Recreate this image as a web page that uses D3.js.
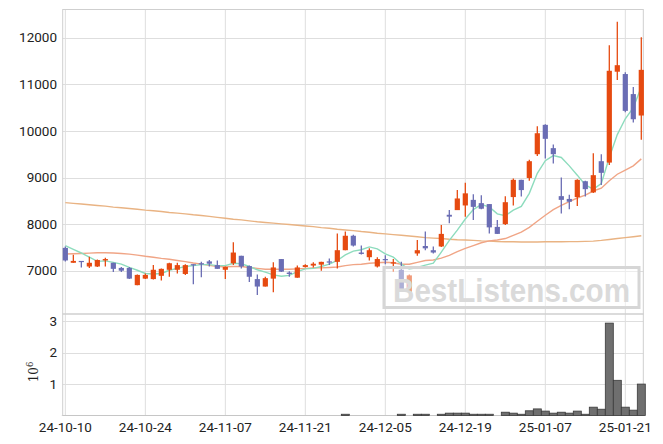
<!DOCTYPE html>
<html lang="en">
<head>
  <meta charset="UTF-8" />
  <title>Candles</title>
  <style>
    body { margin: 0; background: #fff; }
    .grid line { stroke: #dedede; stroke-width: 1; }
    .tick-label { font-family: Roboto, "Liberation Sans", sans-serif; font-size: 13.5px; fill: #222; }
  </style>
</head>
<body>
  <script src="https://d3js.org/d3.v7.min.js"></script>
  <script>
    // trading days (KRX), 2024-10-10 .. 2025-01-23
    const dates = [
      "24-10-10","24-10-11","24-10-14","24-10-15","24-10-16","24-10-17","24-10-18","24-10-21","24-10-22","24-10-23",
      "24-10-24","24-10-25","24-10-28","24-10-29","24-10-30","24-10-31","24-11-01","24-11-04","24-11-05","24-11-06",
      "24-11-07","24-11-08","24-11-11","24-11-12","24-11-13","24-11-14","24-11-15","24-11-18","24-11-19","24-11-20",
      "24-11-21","24-11-22","24-11-25","24-11-26","24-11-27","24-11-28","24-11-29","24-12-02","24-12-03","24-12-04",
      "24-12-05","24-12-06","24-12-09","24-12-10","24-12-11","24-12-12","24-12-13","24-12-16","24-12-17","24-12-18",
      "24-12-19","24-12-20","24-12-23","24-12-24","24-12-26","24-12-27","24-12-30","25-01-02","25-01-03","25-01-06",
      "25-01-07","25-01-08","25-01-09","25-01-10","25-01-13","25-01-14","25-01-15","25-01-16","25-01-17","25-01-20",
      "25-01-21","25-01-22","25-01-23"
    ];

    const open = [
      7490, 7170, 7210, 7090, 7090, 7220, 7170, 7060, 7060, 6690,
      6830, 6820, 6890, 7020, 7020, 6930, 7140, 7160, 7200, 7120,
      7020, 7160, 7320, 7100, 6820, 6660, 6830, 7250, 6960, 6850,
      7080, 7110, 7130, 7200, 7190, 7440, 7750, 7390, 7290, 7090,
      7250, 7160, 7020, 6550, 7370, 7530, 7440, 7520, 8200, 8300,
      8400, 8520, 8450, 8430, 7940, 8000, 8580, 8950, 8990, 9500,
      10130, 9630, 8600, 8540, 8580, 8920, 8680, 9350, 9320, 11270,
      11220, 10790, 10330
    ];
    const high = [
      7520, 7340, 7210, 7300, 7240, 7280, 7170, 7080, 7080, 6920,
      6940, 7120, 7050, 7170, 7170, 7140, 7140, 7190, 7230, 7220,
      7090, 7610, 7320, 7110, 6920, 6870, 7180, 7250, 6990, 7110,
      7140, 7180, 7190, 7260, 7800, 7840, 7770, 7540, 7480, 7290,
      7330, 7250, 7190, 6920, 7660, 7840, 7520, 7980, 8300, 8730,
      8890, 8640, 8620, 8430, 8090, 8600, 8980, 8950, 9380, 10100,
      10140, 9710, 9000, 8630, 8960, 8930, 9520, 9500, 11840, 12340,
      11260, 10940, 12010
    ];
    const low = [
      7200, 7170, 7070, 7060, 7080, 7090, 6970, 6970, 6820, 6690,
      6820, 6810, 6790, 6870, 6940, 6910, 6710, 6860, 7090, 7040,
      6820, 7120, 7050, 6760, 6480, 6660, 6540, 6970, 6870, 6850,
      7070, 7070, 7000, 7120, 7050, 7440, 7520, 7350, 7220, 7070,
      7140, 6980, 6590, 6550, 7320, 7440, 7370, 7510, 8020, 8300,
      8160, 8090, 8320, 7800, 7790, 7980, 8400, 8590, 8930, 9460,
      9410, 9300, 8230, 8320, 8390, 8590, 8670, 8840, 9270, 11090,
      10400, 10180, 9810
    ];
    const close = [
      7220, 7210, 7190, 7170, 7230, 7250, 7040, 7000, 6830, 6910,
      6910, 7020, 7040, 7160, 7120, 7120, 7120, 7140, 7150, 7040,
      7080, 7390, 7090, 6870, 6660, 6840, 7070, 6980, 6930, 7070,
      7120, 7150, 7190, 7180, 7440, 7750, 7540, 7360, 7440, 7250,
      7230, 7180, 6590, 6900, 7440, 7480, 7390, 7790, 8160, 8550,
      8660, 8370, 8330, 7930, 7790, 8470, 8950, 8730, 9350, 9950,
      9830, 9500, 8520, 8480, 8950, 8750, 9050, 9100, 11290, 11410,
      10430, 10250, 11310
    ];
    // volume in millions of shares
    const volume = [
      0.003, 0.003, 0.003, 0.003, 0.003, 0.003, 0.003, 0.003, 0.003, 0.003,
      0.003, 0.003, 0.003, 0.003, 0.003, 0.003, 0.003, 0.003, 0.003, 0.003,
      0.003, 0.003, 0.003, 0.003, 0.003, 0.003, 0.003, 0.003, 0.003, 0.003,
      0.003, 0.003, 0.003, 0.003, 0.003, 0.04, 0.003, 0.003, 0.003, 0.003,
      0.003, 0.003, 0.04, 0.003, 0.04, 0.04, 0.003, 0.04, 0.075, 0.075,
      0.075, 0.04, 0.04, 0.04, 0.003, 0.105, 0.075, 0.04, 0.15, 0.21,
      0.14, 0.075, 0.105, 0.075, 0.14, 0.04, 0.265, 0.2, 2.94, 1.12,
      0.265, 0.17, 1.0
    ];

    // moving averages
    const ma5 = [
      7540, 7460, 7380, 7290, 7200, 7210, 7180, 7140, 7070, 7010,
      6940, 6930, 6940, 7010, 7050, 7090, 7110, 7130, 7130, 7110,
      7110, 7160, 7150, 7090, 7020, 6970, 6910, 6880, 6900, 6980,
      7040, 7050, 7090, 7140, 7220, 7340, 7420, 7450, 7510, 7470,
      7360, 7290, 7140, 7030, 7070, 7120, 7160, 7400, 7650, 7870,
      8110, 8310, 8420, 8370, 8220, 8180, 8300, 8380, 8660, 9090,
      9360, 9470, 9430, 9250, 9050, 8840, 8750, 8870, 9430, 9920,
      10260, 10500, 10940
    ];
    const ma20 = [
      7360, 7365, 7370, 7378, 7385, 7385, 7380, 7370, 7355, 7335,
      7310, 7290, 7265, 7245, 7220, 7195, 7165, 7140, 7115, 7090,
      7085, 7090, 7090, 7070, 7050, 7030, 7030, 7030, 7030, 7040,
      7050, 7060, 7060, 7070, 7080, 7110, 7130, 7140, 7160, 7170,
      7180, 7170, 7140, 7140, 7180, 7220, 7230, 7270, 7330, 7410,
      7480, 7540, 7600, 7640, 7660, 7690, 7760, 7830, 7930, 8060,
      8190, 8310, 8400, 8480, 8560, 8620, 8710, 8770, 8930, 9070,
      9160, 9250, 9400
    ];
    const maLong = [
      8460, 8445, 8430, 8415, 8400, 8385, 8365, 8350, 8335, 8320,
      8300, 8285, 8270, 8250, 8235, 8220, 8200, 8185, 8165, 8145,
      8125, 8105, 8090, 8070, 8050, 8035, 8020, 8005, 7990, 7975,
      7960, 7945, 7925, 7910, 7890, 7875, 7860, 7840, 7825, 7805,
      7790, 7775, 7760, 7745, 7730, 7710, 7700, 7690, 7675, 7665,
      7660, 7650, 7640, 7635, 7625, 7620, 7620, 7615, 7615, 7615,
      7620, 7620, 7620, 7625, 7625, 7630, 7635, 7650, 7670, 7690,
      7710, 7730, 7750
    ];

    const priceTicks = [7000, 8000, 9000, 10000, 11000, 12000];
    const volTicks = [1, 2, 3];
    const dateTicks = [0, 10, 20, 30, 40, 50, 60, 70];

    const width = 663, height = 444;
    const left = 62.7, right = 643.3;
    const mainTop = 9.5, mainBottom = 314;
    const volTop = 314, volBottom = 415.5;
    const upColor = "#e64a10", downColor = "#6a6db4";

    const svg = d3.select("body").append("svg")
      .attr("width", width).attr("height", height);

    const x = d3.scaleLinear().domain([-0.33, 72.25]).range([left, right]);
    const y = d3.scaleLinear().domain([6071, 12605]).range([mainBottom, mainTop]);
    const yv = d3.scaleLinear().domain([0, 3.23]).range([volBottom, volTop]);

    // grid
    const grid = svg.append("g").attr("class", "grid");
    grid.selectAll(".gx").data(dateTicks).enter().append("line")
      .attr("x1", d => x(d)).attr("x2", d => x(d))
      .attr("y1", mainTop).attr("y2", volBottom);
    grid.selectAll(".gy").data(priceTicks).enter().append("line")
      .attr("x1", left).attr("x2", right)
      .attr("y1", d => Math.round(y(d)) + 0.5).attr("y2", d => Math.round(y(d)) + 0.5);
    grid.selectAll(".gv").data(volTicks).enter().append("line")
      .attr("x1", left).attr("x2", right)
      .attr("y1", d => Math.round(yv(d)) + 0.5).attr("y2", d => Math.round(yv(d)) + 0.5);

    // frames
    svg.append("rect").attr("x", left).attr("y", mainTop)
      .attr("width", right - left).attr("height", mainBottom - mainTop)
      .attr("fill", "none").attr("stroke", "#cfcfcf");
    svg.append("rect").attr("x", left).attr("y", volTop)
      .attr("width", right - left).attr("height", volBottom - volTop)
      .attr("fill", "none").attr("stroke", "#cfcfcf");

    const idx = d3.range(dates.length);

    // moving averages
    const lineOf = arr => d3.line().x(i => x(i)).y(i => y(arr[i]));
    const mas = [
      { data: maLong, color: "#e9b383" },
      { data: ma20, color: "#f0a586" },
      { data: ma5, color: "#8ddcbd" }
    ];
    mas.forEach(m => {
      svg.append("path").datum(idx)
        .attr("d", lineOf(m.data))
        .attr("fill", "none")
        .attr("stroke", m.color)
        .attr("stroke-width", 1.4);
    });

    // candles
    const candle = svg.append("g").selectAll("g").data(idx).enter().append("g");
    const col = i => close[i] >= open[i] ? upColor : downColor;
    candle.append("line")
      .attr("x1", i => x(i)).attr("x2", i => x(i))
      .attr("y1", i => y(high[i])).attr("y2", i => y(low[i]))
      .attr("stroke", col).attr("stroke-width", 1.3);
    candle.append("rect")
      .attr("x", i => x(i) - 2.6)
      .attr("width", 5.2)
      .attr("y", i => y(Math.max(open[i], close[i])))
      .attr("height", i => Math.max(1.2, Math.abs(y(open[i]) - y(close[i]))))
      .attr("fill", col);

    // volume bars
    svg.append("g").selectAll("rect").data(idx).enter().append("rect")
      .attr("x", i => x(i) - 4)
      .attr("width", 8)
      .attr("y", i => yv(volume[i]))
      .attr("height", i => yv(0) - yv(volume[i]))
      .attr("fill", "#6f6f6f")
      .attr("stroke", i => (yv(0) - yv(volume[i])) < 1 ? "none" : "#3a3a3a")
      .attr("stroke-width", 0.8);

    // axis labels
    svg.selectAll(".py").data(priceTicks).enter().append("text")
      .attr("class", "tick-label")
      .attr("x", 57).attr("y", d => y(d))
      .attr("dy", "0.35em").attr("text-anchor", "end")
      .text(d => d);
    svg.selectAll(".vy").data(volTicks).enter().append("text")
      .attr("class", "tick-label")
      .attr("x", 57).attr("y", d => yv(d))
      .attr("dy", "0.35em").attr("text-anchor", "end")
      .text(d => d);
    svg.selectAll(".dx").data(dateTicks).enter().append("text")
      .attr("class", "tick-label")
      .attr("x", d => x(d)).attr("y", 432)
      .attr("text-anchor", "middle")
      .text(d => dates[d]);

    const vlab = svg.append("text")
      .attr("transform", "translate(38,372) rotate(-90)")
      .attr("text-anchor", "middle")
      .style("font-family", "'DejaVu Serif', serif")
      .style("font-size", "12px")
      .attr("fill", "#222");
    vlab.append("tspan").text("10");
    vlab.append("tspan").attr("dy", -5).style("font-size", "8.5px").text("6");

    // watermark
    const wm = svg.append("g");
    wm.append("rect").attr("x", 384).attr("y", 267.5).attr("width", 255).attr("height", 40)
      .attr("fill", "#fff").attr("fill-opacity", 0.45)
      .attr("stroke", "#d6d6d6").attr("stroke-width", 3);
    wm.append("text").attr("x", 393).attr("y", 302)
      .attr("textLength", 237).attr("lengthAdjust", "spacingAndGlyphs")
      .style("font-family", "'Liberation Sans', Arial, sans-serif")
      .style("font-weight", "bold").style("font-size", "33px")
      .attr("fill", "#dadada")
      .text("BestListens.com");
  </script>
</body>
</html>
